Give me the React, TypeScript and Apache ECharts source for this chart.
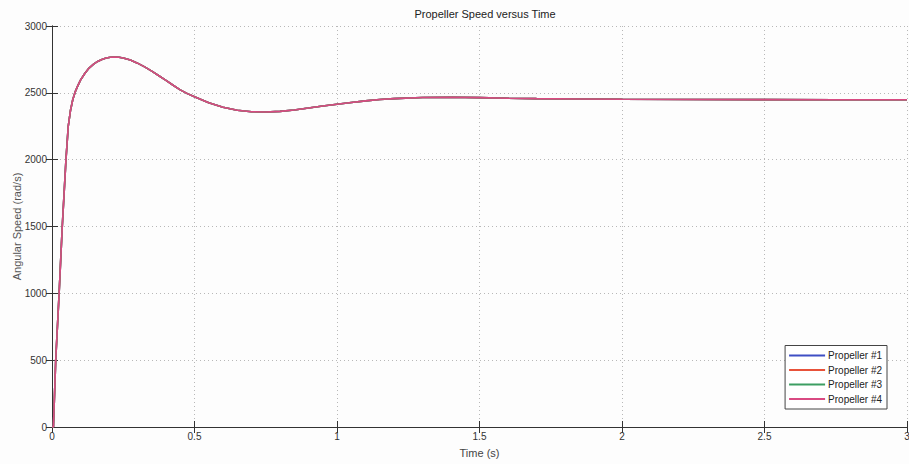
import React, { useEffect, useRef } from "react";
import * as echarts from "echarts";

const titleText = "Propeller Speed versus Time";
const seriesNames = ["Propeller #1", "Propeller #2", "Propeller #3", "Propeller #4"];
const seriesColors = ["#3f4fc4", "#e8523a", "#3c9e62", "#d94a82"];

const timeValues = [
  0, 0.005, 0.013, 0.025, 0.036, 0.049, 0.057, 0.065, 0.073, 0.081, 0.09, 0.1, 0.115, 0.13,
  0.145, 0.16, 0.175, 0.19, 0.205, 0.22, 0.235, 0.25, 0.275, 0.3, 0.325, 0.35, 0.375, 0.4,
  0.425, 0.45, 0.475, 0.5, 0.55, 0.6, 0.65, 0.7, 0.75, 0.8, 0.85, 0.9, 0.95, 1.0, 1.05, 1.1,
  1.15, 1.2, 1.3, 1.4, 1.5, 1.6, 1.7, 1.85, 2.0, 2.25, 2.5, 2.75, 3.0,
];
const propellerSpeed = [
  0, 0, 500, 1000, 1500, 2000, 2250, 2370, 2450, 2505, 2550, 2595, 2645, 2685,
  2713, 2735, 2750, 2760, 2766, 2768, 2766, 2761, 2745, 2722, 2694, 2662, 2628, 2593,
  2557, 2522, 2494, 2470, 2425, 2392, 2370, 2359, 2357, 2361, 2372, 2386, 2401, 2415, 2428, 2440,
  2450, 2457, 2465, 2467, 2464, 2460, 2457, 2454, 2452, 2450, 2449, 2448, 2448,
];

const xTicks = [0, 0.5, 1, 1.5, 2, 2.5, 3];
const yMin = 0;
const yMax = 3000;
const yStep = 500;

export default function App() {
  const ref = useRef<HTMLDivElement>(null);
  useEffect(() => {
    if (!ref.current) return;
    const chart = echarts.init(ref.current, null, { renderer: "svg" });
    const font = "Liberation Sans, Arial, sans-serif";
    const data = timeValues.map((t, i) => [t, propellerSpeed[i]]);
    const gridLine = { show: true, lineStyle: { color: "#b8b8b8", type: [1, 3] as any, width: 1 } };
    chart.setOption({
      animation: false,
      backgroundColor: "#fdfdfd",
      title: {
        text: titleText,
        left: 480,
        top: 3,
        textAlign: "center",
        textStyle: { fontFamily: font, fontSize: 11, fontWeight: "normal", color: "#222" },
      },
      grid: { left: 52, right: 2, top: 26, bottom: 37, containLabel: false, outerBoundsMode: "none" } as any,
      legend: {
        orient: "vertical",
        right: 22,
        bottom: 55,
        data: seriesNames,
        icon: "rect",
        itemWidth: 36,
        itemHeight: 2,
        itemGap: 4.5,
        padding: [5, 5, 5, 4],
        borderColor: "#444",
        borderWidth: 1,
        borderRadius: 0,
        backgroundColor: "#fff",
        textStyle: { fontFamily: font, fontSize: 10, color: "#222", padding: [0, 0, 0, -2] },
      },
      xAxis: [
        {
          type: "value",
          min: 0,
          max: 3,
          interval: 0.5,
          name: "Time (s)",
          nameLocation: "middle",
          nameGap: 20,
          nameMoveOverlap: false,
          nameTextStyle: { fontFamily: font, fontSize: 11, color: "#444" },
          axisLine: { show: true, lineStyle: { color: "#333", width: 1 } },
          axisTick: { show: true, inside: true, length: 6, lineStyle: { color: "#333" } },
          axisLabel: {
            fontFamily: font,
            fontSize: 10,
            color: "#333",
            margin: 4,
            showMaxLabel: true,
            showMinLabel: true,
            formatter: (v: number) => (xTicks.includes(v) ? String(v) : ""),
          },
          splitLine: gridLine,
        },
        {
          type: "value",
          position: "top",
          min: 0,
          max: 3,
          interval: 0.5,
          axisLine: { show: true, lineStyle: { color: "#333", width: 1 } },
          axisTick: { show: true, inside: true, length: 6, lineStyle: { color: "#333" } },
          axisLabel: { show: false },
          splitLine: { show: false },
        },
      ],
      yAxis: [
        {
          type: "value",
          min: yMin,
          max: yMax,
          interval: yStep,
          name: "Angular Speed (rad/s)",
          nameLocation: "middle",
          nameGap: 30,
          nameMoveOverlap: false,
          nameTextStyle: { fontFamily: font, fontSize: 11, color: "#555" },
          axisLine: { show: true, lineStyle: { color: "#333", width: 1 } },
          axisTick: { show: true, inside: true, length: 6, lineStyle: { color: "#333" } },
          axisLabel: { fontFamily: font, fontSize: 10, color: "#333", margin: 5, formatter: (v: number) => String(v) },
          splitLine: gridLine,
        },
        {
          type: "value",
          position: "right",
          min: yMin,
          max: yMax,
          interval: yStep,
          axisLine: { show: true, lineStyle: { color: "#333", width: 1 } },
          axisTick: { show: true, inside: true, length: 6, lineStyle: { color: "#333" } },
          axisLabel: { show: false },
          splitLine: { show: false },
        },
      ],
      series: seriesNames.map((name, i) => ({
        name,
        type: "line",
        data,
        xAxisIndex: 0,
        yAxisIndex: 0,
        symbol: "none",
        smooth: false,
        color: seriesColors[i],
        lineStyle: { color: seriesColors[i], width: 1.6 },
      })),
    } as any);
    return () => chart.dispose();
  }, []);
  return (
    <div
      ref={ref}
      style={{ position: "fixed", left: 0, top: 0, width: 909, height: 464 }}
    />
  );
}
